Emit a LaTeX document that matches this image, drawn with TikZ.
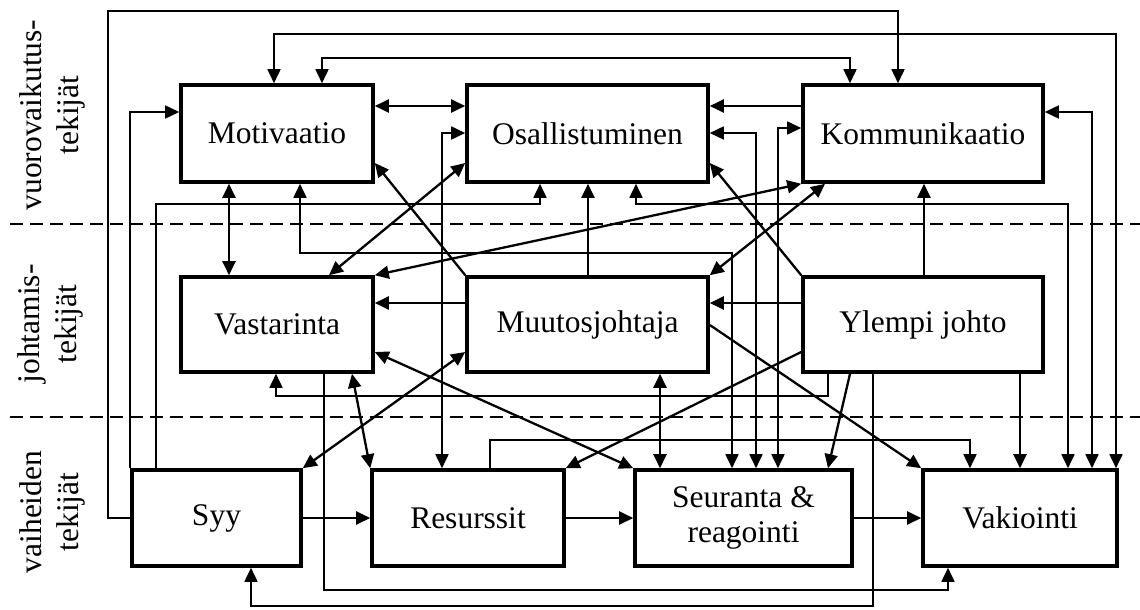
\documentclass[tikz,border=0pt]{standalone}
\usepackage{fontspec}
\setmainfont{Liberation Serif}
\usetikzlibrary{arrows.meta}
\begin{document}
\begin{tikzpicture}[x=1pt,y=-1pt,
  box/.style={draw, line width=3.6pt, minimum height=96pt, inner sep=0pt, align=center, font=\fontsize{31.5}{35}\selectfont},
  conn/.style={line width=2.3pt},
  route/.style={line width=1.7pt},
  lbl/.style={rotate=90, align=center, font=\fontsize{31.5}{37}\selectfont},
  sepline/.style={line width=1.6pt, dash pattern=on 13pt off 7pt},
  >={Triangle[length=14pt,width=13pt]}
]
\useasboundingbox (0,0) rectangle (1140,610);
% separators
\coordinate (s1a) at (10,224); \coordinate (s1b) at (1140,224);
\coordinate (s2a) at (10,417); \coordinate (s2b) at (1140,417);
\draw[sepline] (s1a) -- (s1b);
\draw[sepline] (s2a) -- (s2b);
% side labels
\node[lbl] (l1) at (52,115) {vuorovaikutus-\\tekijät};
\node[lbl] (l2) at (50,324) {johtamis-\\tekijät};
\node[lbl] (l3) at (52,512) {vaiheiden\\tekijät};
% boxes
\node[box, minimum width=192pt, minimum height=97pt] (mot) at (277,133.5) {Motivaatio};
\node[box, minimum width=241pt, minimum height=97pt] (osa) at (587.5,133.5) {Osallistuminen};
\node[box, minimum width=240pt, minimum height=97pt] (kom) at (923,133.5) {Kommunikaatio};
\node[box, minimum width=192pt, minimum height=95pt] (vas) at (277,324.5) {Vastarinta};
\node[box, minimum width=241pt, minimum height=95pt] (muu) at (587.5,324.5) {Muutosjohtaja};
\node[box, minimum width=240pt, minimum height=95pt] (yle) at (923,324.5) {Ylempi johto};
\node[box, minimum width=169pt] (syy) at (216.5,518) {Syy};
\node[box, minimum width=192pt] (res) at (468,518) {Resurssit};
\node[box, minimum width=217pt] (seu) at (743.5,518) {Seuranta \&\\reagointi};
\node[box, minimum width=194pt] (vak) at (1020,518) {Vakiointi};
% top routes
\draw[route,->] (syy.west) -| (108,11) -| (kom.north -| 898,0);
\draw[route,<->] (mot.north -| 274,0) |- (1116,34) -- (vak.north -| 1116,0);
\draw[route,<->] (mot.north -| 322,0) |- (850,58) -- (kom.north -| 850,0);
\draw[conn,<->] (mot.east |- 0,106) -- (osa.west |- 0,106);
\draw[conn,->] (kom.west |- 0,106) -- (osa.east |- 0,106);
\draw[route,<->] (res.north -| 442,0) |- (osa.west |- 0,133);
\draw[route,<->] (seu.north -| 756,0) |- (osa.east |- 0,133);
\draw[route,<->] (seu.north -| 778,0) |- (kom.west |- 0,128);
\draw[route,<->] (vak.north -| 1092,0) |- (kom.east |- 0,112);
\draw[route,->] (syy.north west) |- (mot.west |- 0,112);
\draw[route,->] (syy.north -| 156,0) |- (540,204) -- (osa.south -| 540,0);
\draw[conn,<->] (mot.south -| 229,0) -- (vas.north -| 229,0);
\draw[route,<->] (mot.south -| 300,0) |- (732,253) -- (seu.north -| 732,0);
\draw[route,<->] (osa.south -| 636,0) |- (1068,204) -- (vak.north -| 1068,0);
\draw[conn,->] (muu.north -| 588,0) -- (osa.south -| 588,0);
\draw[conn,->] (yle.north -| 924,0) -- (kom.south -| 924,0);
% diagonals between top and middle rows
\draw[conn,->] (muu.north west) -- (mot.east |- 0,163);
\draw[conn,<->] (vas.north -| 329,0) -- (osa.west |- 0,163);
\draw[conn,<->] (vas.north east) -- (kom.south west);
\draw[conn,<->] (muu.north east) -- (kom.south -| 825,0);
\draw[conn,->] (yle.north west) -- (osa.east |- 0,163);
% middle row
\draw[conn,->] (muu.west |- 0,303) -- (vas.east |- 0,303);
\draw[conn,->] (yle.west |- 0,303) -- (muu.east |- 0,303);
\draw[route,->] (yle.south -| 828,0) |- (276,396) -- (vas.south -| 276,0);
\draw[conn,<->] (muu.south -| 660,0) -- (seu.north -| 660,0);
\draw[conn,<->] (vas.south -| 352,0) -- (res.north west);
\draw[conn,<->] (vas.east |- 0,352) -- (seu.north west);
\draw[conn,<->] (syy.north east) -- (muu.west |- 0,352);
\draw[conn,->] (yle.west |- 0,352) -- (res.north east);
\draw[conn,->] (muu.east |- 0,325) -- (vak.north west);
\draw[conn,->] (yle.south -| 850,0) -- (seu.north -| 828,0);
\draw[route,->] (yle.south -| 873,0) |- (251,606) -- (syy.south -| 251,0);
\draw[route,->] (vas.south -| 324,0) |- (948,590) -- (vak.south -| 948,0);
\draw[conn,->] (yle.south -| 1020,0) -- (vak.north -| 1020,0);
\draw[route,->] (res.north -| 490,0) |- (970,440) -- (vak.north -| 970,0);
% bottom row
\draw[conn,->] (syy.east) -- (res.west);
\draw[conn,->] (res.east) -- (seu.west);
\draw[conn,->] (seu.east) -- (vak.west);
\end{tikzpicture}
\end{document}
